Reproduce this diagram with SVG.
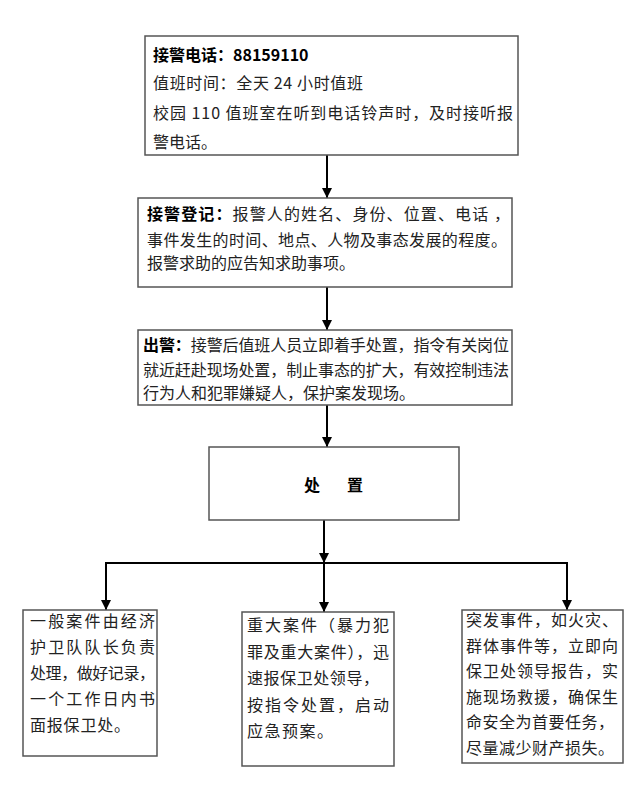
<svg xmlns="http://www.w3.org/2000/svg" width="640" height="802" viewBox="0 0 640 802">
<defs>
<style>
.box{fill:#fff;stroke:#555;stroke-width:1.5}
.t{font-family:"Noto Sans CJK SC","Liberation Sans",sans-serif;font-size:16px;fill:#222}
.b{font-weight:bold;fill:#000}
.c{stroke:#000;stroke-width:2;fill:none}
</style>
<marker id="ah" viewBox="0 0 10 10" refX="10" refY="5" markerWidth="5" markerHeight="5" orient="auto" markerUnits="strokeWidth">
<path d="M0,0 L10,5 L0,10 Z" fill="#000"/>
</marker>
</defs>
<rect width="640" height="802" fill="#fff"/>
<g id="connectors">
<line class="c" x1="327" y1="155" x2="327" y2="198" marker-end="url(#ah)"/>
<line class="c" x1="327" y1="287" x2="327" y2="330" marker-end="url(#ah)"/>
<line class="c" x1="327" y1="405" x2="327" y2="447" marker-end="url(#ah)"/>
<line class="c" x1="324" y1="520" x2="324" y2="563" marker-end="url(#ah)"/>
<line class="c" x1="105" y1="563" x2="568" y2="563"/>
<line class="c" x1="106" y1="562" x2="106" y2="610" marker-end="url(#ah)"/>
<line class="c" x1="324" y1="563" x2="324" y2="612" marker-end="url(#ah)"/>
<line class="c" x1="567" y1="562" x2="567" y2="610" marker-end="url(#ah)"/>
</g>
<g id="n1">
<rect class="box" x="145" y="36" width="373" height="119"/>
<text class="t" x="153" y="61"><tspan class="b">接警电话：88159110</tspan></text>
<text class="t" x="153" y="89" textLength="210">值班时间：全天 24 小时值班</text>
<text class="t" x="153" y="119" textLength="360">校园 110 值班室在听到电话铃声时，及时接听报</text>
<text class="t" x="153" y="148">警电话。</text>
</g>
<g id="n2">
<rect class="box" x="138" y="198" width="374" height="89"/>
<text class="t" x="147" y="220" textLength="363"><tspan class="b">接警登记：</tspan>报警人的姓名、身份、位置、电话 ，</text>
<text class="t" x="147" y="246" textLength="360">事件发生的时间、地点、人物及事态发展的程度。</text>
<text class="t" x="147" y="269">报警求助的应告知求助事项。</text>
</g>
<g id="n3">
<rect class="box" x="138" y="330" width="374" height="75"/>
<text class="t" x="143" y="351" textLength="366"><tspan class="b">出警：</tspan>接警后值班人员立即着手处置，指令有关岗位</text>
<text class="t" x="143" y="376" textLength="366">就近赶赴现场处置，制止事态的扩大，有效控制违法</text>
<text class="t" x="143" y="399">行为人和犯罪嫌疑人，保护案发现场。</text>
</g>
<g id="n4">
<rect class="box" x="209" y="447" width="250" height="73"/>
<text class="t b" x="304" y="491">处</text>
<text class="t b" x="347" y="491">置</text>
</g>
<g id="n5">
<rect class="box" x="23" y="610" width="134" height="146"/>
<text class="t" x="30" y="627" textLength="125">一般案件由经济</text>
<text class="t" x="30" y="653" textLength="125">护卫队队长负责</text>
<text class="t" x="30" y="679" textLength="125">处理，做好记录，</text>
<text class="t" x="30" y="705" textLength="125">一个工作日内书</text>
<text class="t" x="30" y="731" textLength="100">面报保卫处。</text>
</g>
<g id="n6">
<rect class="box" x="242" y="612" width="152" height="154"/>
<text class="t" x="247" y="631" textLength="142">重大案件（暴力犯</text>
<text class="t" x="247" y="658" textLength="142">罪及重大案件），迅</text>
<text class="t" x="247" y="684" textLength="132">速报保卫处领导，</text>
<text class="t" x="247" y="711" textLength="142">按指令处置，启动</text>
<text class="t" x="247" y="737" textLength="86">应急预案。</text>
</g>
<g id="n7">
<rect class="box" x="462" y="610" width="161" height="153"/>
<text class="t" x="466" y="626" textLength="152">突发事件，如火灾、</text>
<text class="t" x="466" y="652" textLength="152">群体事件等，立即向</text>
<text class="t" x="466" y="677" textLength="152">保卫处领导报告，实</text>
<text class="t" x="466" y="703" textLength="152">施现场救援，确保生</text>
<text class="t" x="466" y="728" textLength="148">命安全为首要任务，</text>
<text class="t" x="466" y="754" textLength="148">尽量减少财产损失。</text>
</g>
</svg>
